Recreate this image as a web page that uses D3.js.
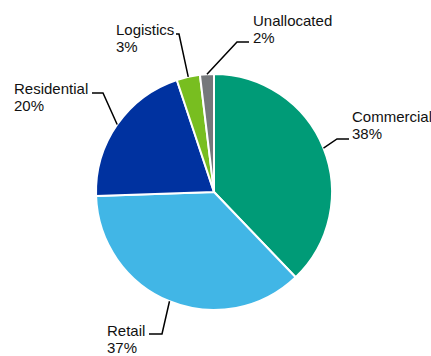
<!DOCTYPE html>
<html>
<head>
<meta charset="utf-8">
<script src="https://cdn.jsdelivr.net/npm/d3@7"></script>
<style>
  body { margin: 0; background: #fff; }
  text { font-family: "Liberation Sans", Arial, sans-serif; font-size: 15px; fill: #111; }
</style>
</head>
<body>
<div id="box-pie"></div>
<script>
// values (percent of portfolio)
var categories = ["Commercial", "Retail", "Residential", "Logistics", "Unallocated"];
var values = [37.8, 36.6, 20.4, 3.2, 1.9];
var colors = ["#009b77", "#41b6e6", "#0032a0", "#78be20", "#75787b"];

// label placement: text origin (first baseline), elbow point, stub end
var labelLayout = [
  { tx: 352, ty: 122, ex: 337, ey: 139, sx: 349 },
  { tx: 107, ty: 336, ex: 162, ey: 334, sx: 149 },
  { tx: 14,  ty: 94,  ex: 103, ey: 93,  sx: 92 },
  { tx: 116, ty: 35,  ex: 179, ey: 34,  sx: 176 },
  { tx: 253, ty: 25.5, ex: 237, ey: 42, sx: 249 }
];

var width = 431, height = 356;
var cx = 214, cy = 192, radius = 118;

var svg = d3.select("#box-pie").append("svg")
  .attr("width", width).attr("height", height);

var data = categories.map(function(c, i){
  return { name: c, value: values[i], color: colors[i], layout: labelLayout[i] };
});
var total = d3.sum(values);

var pie = d3.pie().sort(null).value(function(d){ return d.value; });
var arc = d3.arc().innerRadius(0).outerRadius(radius);
var edge = d3.arc().innerRadius(radius).outerRadius(radius);

var g = svg.append("g").attr("transform", "translate(" + cx + "," + cy + ")");
var arcs = pie(data);

g.selectAll(".slice")
  .data(arcs)
  .enter()
  .append("path")
  .attr("class", "slice")
  .attr("d", arc)
  .attr("fill", function(d){ return d.data.color; })
  .attr("stroke", "#fff")
  .attr("stroke-width", 2)
  .attr("stroke-linejoin", "round");

// leader lines
svg.selectAll(".leader")
  .data(arcs)
  .enter()
  .append("polyline")
  .attr("class", "leader")
  .attr("fill", "none")
  .attr("stroke", "#000")
  .attr("stroke-width", 1.5)
  .attr("points", function(d){
    var p = edge.centroid(d);
    var L = d.data.layout;
    return [[cx + p[0], cy + p[1]], [L.ex, L.ey], [L.sx, L.ey]].join(" ");
  });

var labels = svg.selectAll(".label")
  .data(arcs)
  .enter()
  .append("text")
  .attr("class", "label")
  .attr("x", function(d){ return d.data.layout.tx; })
  .attr("y", function(d){ return d.data.layout.ty; });

labels.append("tspan")
  .attr("x", function(d){ return d.data.layout.tx; })
  .text(function(d){ return d.data.name; });

labels.append("tspan")
  .attr("x", function(d){ return d.data.layout.tx; })
  .attr("dy", 17)
  .text(function(d){ return Math.round(d.data.value / total * 100) + "%"; });
</script>
</body>
</html>
